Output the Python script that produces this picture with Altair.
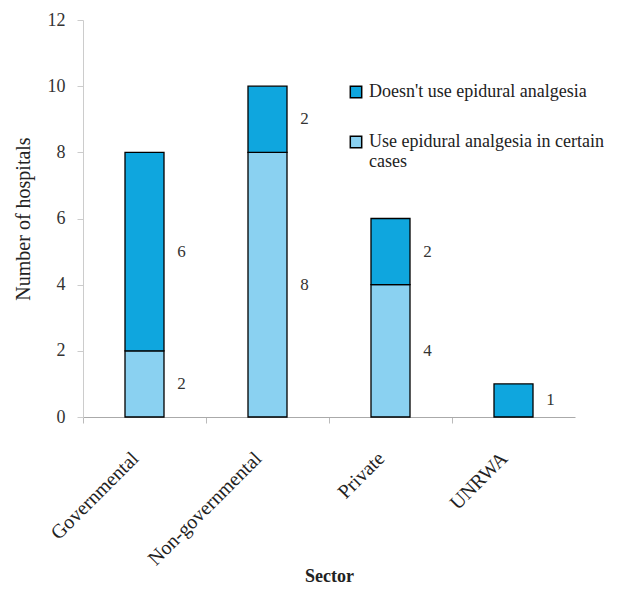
import altair as alt
import pandas as pd

sectors = ["Governmental", "Non-governmental", "Private", "UNRWA"]
use_certain = [2, 8, 4, 0]
doesnt_use = [6, 2, 2, 1]
series_names = ["Doesn't use epidural analgesia", "Use epidural analgesia in certain cases"]
colors = ["#0fa6de", "#8ad1f1"]

rows = []
for s, u, d in zip(sectors, use_certain, doesnt_use):
    if u > 0:
        rows.append({"sector": s, "group": series_names[1], "count": u, "ord": 0})
    if d > 0:
        rows.append({"sector": s, "group": series_names[0], "count": d, "ord": 1})
df = pd.DataFrame(rows)

FONT = "Liberation Serif"

base = alt.Chart(df).transform_stack(
    stack="count", groupby=["sector"], as_=["y0", "y1"], sort=[alt.SortField("ord")]
).transform_calculate(mid="(datum.y0 + datum.y1) / 2")

x_enc = alt.X(
    "sector:N",
    sort=sectors,
    title="Sector",
    scale=alt.Scale(paddingInner=0, paddingOuter=0),
    axis=alt.Axis(
        labelAngle=-45,
        labelAlign="right",
        labelBaseline="middle",
        labelFont=FONT,
        labelFontSize=20,
        labelColor="#222",
        labelPadding=32,
        labelOffset=-9,
        titleFont=FONT,
        titleFontSize=18,
        titleFontWeight="bold",
        titleColor="#222",
        titleY=164,
        titleBaseline="alphabetic",
        bandPosition=0,
        domainColor="#aaa",
        tickColor="#bbb",
        tickSize=6,
        grid=False,
    ),
)

bars = base.mark_bar(size=39, stroke="black", strokeWidth=1.3).encode(
    x=x_enc,
    y=alt.Y(
        "y0:Q",
        title="Number of hospitals",
        scale=alt.Scale(domain=[0, 12]),
        axis=alt.Axis(
            values=[0, 2, 4, 6, 8, 10, 12],
            labelFont=FONT,
            labelFontSize=18,
            labelColor="#333",
            labelPadding=12,
            titleFont=FONT,
            titleFontSize=20,
            titleFontWeight="normal",
            titleColor="#222",
            titlePadding=14,
            domainColor="#ccc",
            tickColor="#ccc",
            tickSize=6,
            grid=False,
        ),
    ),
    y2="y1:Q",
    color=alt.Color(
        "group:N",
        scale=alt.Scale(domain=series_names, range=colors),
        legend=alt.Legend(
            title=None,
            orient="none",
            legendX=264,
            legendY=63,
            symbolType="square",
            symbolSize=130,
            symbolStrokeColor="black",
            symbolStrokeWidth=1.5,
            symbolOpacity=1,
            labelFont=FONT,
            labelFontSize=18,
            labelColor="#222",
            labelLimit=400,
            labelOffset=4,
            rowPadding=32,
            labelExpr="datum.label == 'Use epidural analgesia in certain cases' ? ['Use epidural analgesia in certain', 'cases'] : datum.label",
        ),
    ),
    order=alt.Order("ord:Q"),
)

labels = base.mark_text(
    font=FONT, fontSize=17, color="#333", align="center", dx=37
).encode(
    x=alt.X("sector:N", sort=sectors),
    y=alt.Y("mid:Q"),
    text=alt.Text("count:Q"),
)

chart = (
    alt.layer(bars, labels)
    .properties(
        width=492,
        height=397,
        padding={"left": 75, "top": 12, "right": 52, "bottom": 170},
        autosize=alt.AutoSizeParams(type="none"),
        background="white",
    )
    .configure_view(strokeWidth=0, stroke="transparent")
)

chart.save("out.html", embed_options={"renderer": "svg", "actions": False})
